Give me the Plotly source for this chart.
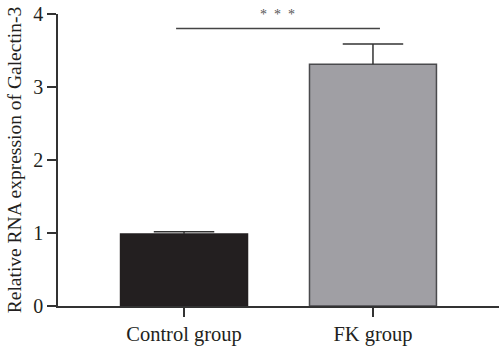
import plotly.graph_objects as go

categories = ["Control group", "FK group"]
means = [0.986, 3.31]
errors = [0.03, 0.28]
bar_colors = ["#231f20", "#a09fa4"]
line_colors = ["#231f20", "#4a4a4d"]
y_ticks = [0, 1, 2, 3, 4]
sig_level = 3.8
sig_text = "*&nbsp;&nbsp;*&nbsp;&nbsp;*"

x_pos = list(range(len(categories)))
cap_half = 0.16

fig = go.Figure()
fig.add_trace(go.Bar(
    x=x_pos, y=means, width=0.672,
    marker=dict(color=bar_colors, line=dict(color=line_colors, width=1.5)),
    showlegend=False,
))

# upper-only error bars (stem + cap) built from the data arrays
ex, ey = [], []
for xi, m, e in zip(x_pos, means, errors):
    ex += [xi, xi, None, xi - cap_half, xi + cap_half, None]
    ey += [m, m + e, None, m + e, m + e, None]
fig.add_trace(go.Scatter(
    x=ex, y=ey, mode="lines", line=dict(color="#333333", width=1.5),
    showlegend=False, hoverinfo="skip",
))

# significance line
fig.add_trace(go.Scatter(
    x=[-0.042, 1.037], y=[sig_level, sig_level], mode="lines",
    line=dict(color="#444444", width=1.5), showlegend=False, hoverinfo="skip",
))
fig.add_annotation(x=0.497, y=sig_level, text=sig_text, showarrow=False,
                   yshift=14, font=dict(family="Liberation Serif", size=14, color="#555555"))

fig.update_layout(
    width=500, height=346,
    margin=dict(l=58, r=1, t=14, b=40),
    plot_bgcolor="white", paper_bgcolor="white",
    font=dict(family="Liberation Serif", size=20, color="#231f20"),
)
fig.update_xaxes(
    range=[-0.667, 1.667], tickvals=x_pos, ticktext=categories,
    showline=True, linecolor="#333333", linewidth=1.5,
    ticks="outside", ticklen=9, tickwidth=1.5, tickcolor="#333333",
    showgrid=False, zeroline=False, tickfont=dict(size=20.5),
)
fig.update_yaxes(
    range=[0, 4], tickvals=y_ticks,
    showline=True, linecolor="#333333", linewidth=1.5,
    ticks="outside", ticklen=9, tickwidth=1.5, tickcolor="#333333",
    showgrid=False, zeroline=False, tickfont=dict(size=20),
    title=dict(text="Relative RNA expression of Galectin-3", font=dict(size=19.5), standoff=6),
)

fig.write_html("out.html")
